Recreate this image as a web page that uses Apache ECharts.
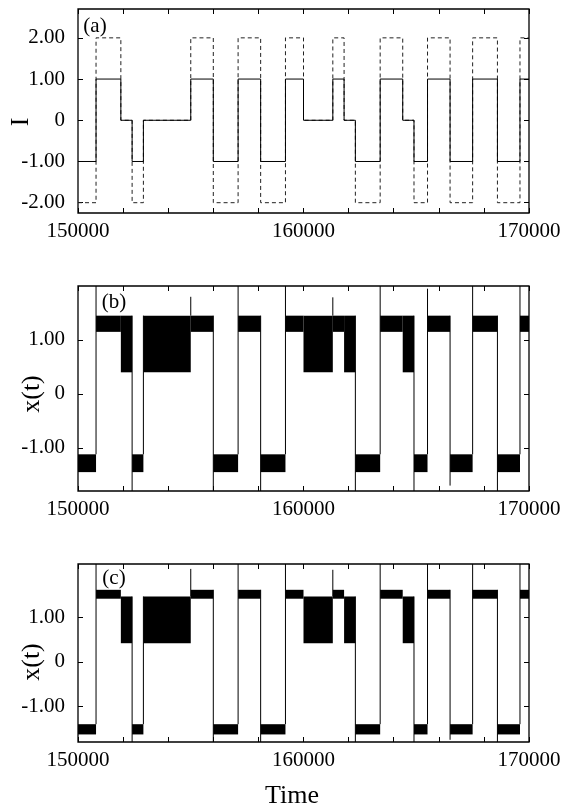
<!DOCTYPE html>
<html>
<head>
<meta charset="utf-8">
<script src="https://cdn.jsdelivr.net/npm/echarts@6/dist/echarts.min.js"></script>
<style>
  html, body { margin: 0; padding: 0; background: #fff; }
  #chart { width: 575px; height: 808px; }
</style>
</head>
<body>
<div id="chart"></div>
<script>
// x axis
const xTicks = [150000, 152000, 154000, 156000, 158000, 160000, 162000, 164000, 166000, 168000, 170000];
const xLabels = [150000, 160000, 170000];
const yTicksA = [-2, -1, 0, 1, 2];
const yTicksBC = [-1, 0, 1];

// panel (a): switching times and the two current levels
const switchTimes = [150000, 150800, 151900, 152400, 152900, 155000, 156000, 157100, 158100, 159200,
  160000, 161300, 161800, 162300, 163400, 164400, 164900, 165500, 166500, 167500, 168600, 169600, 170000];
const currentSolid = [-1, 1, 0, -1, 0, 1, -1, 1, -1, 1, 0, 1, 0, -1, 1, 0, -1, 1, -1, 1, -1, 1, 1];
const currentDashed = [-2, 2, 0, -2, 0, 2, -2, 2, -2, 2, 0, 2, 0, -2, 2, 0, -2, 2, -2, 2, -2, 2, 2];

// panel (b): oscillation bands [start, end, low, high]
const bandsB = [
  [150000, 150800, -1.45, -1.12], [150800, 151900, 1.15, 1.45], [151900, 152400, 0.40, 1.45],
  [152400, 152900, -1.45, -1.12], [152900, 155000, 0.40, 1.45], [155000, 156000, 1.15, 1.45],
  [156000, 157100, -1.45, -1.12], [157100, 158100, 1.15, 1.45], [158100, 159200, -1.45, -1.12],
  [159200, 160000, 1.15, 1.45], [160000, 161300, 0.40, 1.45], [161300, 161800, 1.15, 1.45],
  [161800, 162300, 0.40, 1.45], [162300, 163400, -1.45, -1.12], [163400, 164400, 1.15, 1.45],
  [164400, 164900, 0.40, 1.45], [164900, 165500, -1.45, -1.12], [165500, 166500, 1.15, 1.45],
  [166500, 167500, -1.45, -1.12], [167500, 168600, 1.15, 1.45], [168600, 169600, -1.45, -1.12],
  [169600, 170000, 1.15, 1.45]
];
// panel (b): jumps [time, from, to]
const jumpsB = [
  [150800, -1.12, 2.0], [152400, 1.45, -1.8], [152900, -1.12, 1.45], [155000, 1.45, 1.8],
  [156000, 1.45, -1.8], [157100, -1.12, 2.0], [158100, 1.45, -1.8], [159200, -1.12, 2.0],
  [161300, 1.45, 1.79], [162300, 1.45, -1.8], [163400, -1.12, 2.0], [164900, 1.45, -1.8],
  [165500, -1.12, 1.95], [166500, 1.45, -1.7], [167500, -1.12, 2.0], [168600, 1.45, -1.8],
  [169600, -1.12, 2.0]
];

// panel (c)
const bandsC = [
  [150000, 150800, -1.63, -1.40], [150800, 151900, 1.42, 1.62], [151900, 152400, 0.42, 1.47],
  [152400, 152900, -1.63, -1.40], [152900, 155000, 0.42, 1.47], [155000, 156000, 1.42, 1.62],
  [156000, 157100, -1.63, -1.40], [157100, 158100, 1.42, 1.62], [158100, 159200, -1.63, -1.40],
  [159200, 160000, 1.42, 1.62], [160000, 161300, 0.42, 1.47], [161300, 161800, 1.42, 1.62],
  [161800, 162300, 0.42, 1.47], [162300, 163400, -1.63, -1.40], [163400, 164400, 1.42, 1.62],
  [164400, 164900, 0.42, 1.47], [164900, 165500, -1.63, -1.40], [165500, 166500, 1.42, 1.62],
  [166500, 167500, -1.63, -1.40], [167500, 168600, 1.42, 1.62], [168600, 169600, -1.63, -1.40],
  [169600, 170000, 1.42, 1.62]
];
const jumpsC = [
  [150800, -1.40, 2.2], [152400, 1.47, -1.8], [152900, -1.40, 1.47], [155000, 1.47, 2.09],
  [156000, 1.62, -1.8], [157100, -1.40, 2.2], [158100, 1.62, -1.8], [159200, -1.40, 2.2],
  [161300, 1.47, 2.07], [162300, 1.47, -1.8], [163400, -1.40, 2.2], [164900, 1.47, -1.8],
  [165500, -1.40, 2.2], [166500, 1.62, -1.75], [167500, -1.40, 2.2], [168600, 1.62, -1.8],
  [169600, -1.40, 2.2]
];

const FONT = 'Liberation Serif';
const chart = echarts.init(document.getElementById('chart'));

const grids = [
  { left: 78, top: 9, width: 451, height: 204 },
  { left: 78, top: 286, width: 451, height: 205 },
  { left: 78, top: 564, width: 451, height: 178 }
];
const yRanges = [[-2.25, 2.7], [-1.8, 2.0], [-1.8, 2.2]];
const yTickSets = [yTicksA, yTicksBC, yTicksBC];

const tick = { inside: true, length: 5, lineStyle: { color: '#000', width: 1 } };
const noLine = { show: false, onZero: false };
const xAxes = [];
const yAxes = [];
grids.forEach((g, i) => {
  xAxes.push({
    type: 'value', gridIndex: i, position: 'bottom', min: 150000, max: 170000,
    axisLine: noLine, splitLine: { show: false },
    axisTick: Object.assign({ customValues: xTicks }, tick),
    axisLabel: { customValues: xLabels, color: '#000', fontFamily: FONT, fontSize: 21, margin: 8, formatter: v => String(v) }
  });
  xAxes.push({
    type: 'value', gridIndex: i, position: 'top', min: 150000, max: 170000,
    axisLine: noLine, splitLine: { show: false },
    axisTick: Object.assign({ customValues: xTicks }, tick),
    axisLabel: { show: false }
  });
  yAxes.push({
    type: 'value', gridIndex: i, position: 'left', min: yRanges[i][0], max: yRanges[i][1],
    axisLine: noLine, splitLine: { show: false },
    axisTick: Object.assign({ customValues: yTickSets[i] }, tick),
    axisLabel: {
      customValues: yTickSets[i], color: '#000', fontFamily: FONT, fontSize: 21, margin: 13,
      formatter: v => (v === 0 ? '0' : v.toFixed(2))
    }
  });
  yAxes.push({
    type: 'value', gridIndex: i, position: 'right', min: yRanges[i][0], max: yRanges[i][1],
    axisLine: noLine, splitLine: { show: false },
    axisTick: Object.assign({ customValues: yTickSets[i] }, tick),
    axisLabel: { show: false }
  });
});

function renderBand(params, api) {
  const p1 = api.coord([api.value(0), api.value(3)]);
  const p2 = api.coord([api.value(1), api.value(2)]);
  return {
    type: 'rect',
    shape: { x: p1[0], y: p1[1], width: p2[0] - p1[0], height: p2[1] - p1[1] },
    style: { fill: '#000' }
  };
}
function renderJump(params, api) {
  const a = api.coord([api.value(0), api.value(1)]);
  const b = api.coord([api.value(0), api.value(2)]);
  return {
    type: 'line',
    shape: { x1: a[0], y1: a[1], x2: b[0], y2: b[1] },
    style: { stroke: '#000', lineWidth: 1 }
  };
}

const zip = (xs, ys) => xs.map((x, i) => [x, ys[i]]);
const label = (text, x, y, size, extra) => Object.assign({
  type: 'text', x: x, y: y,
  style: { text: text, font: size + 'px "Liberation Serif"', fill: '#000', align: 'center', verticalAlign: 'middle' }
}, extra || {});

chart.setOption({
  animation: false,
  grid: grids.map(g => Object.assign({ show: true, borderColor: '#000', borderWidth: 1.3, backgroundColor: 'transparent' }, g)),
  xAxis: xAxes,
  yAxis: yAxes,
  graphic: [
    label('(a)', 95, 26, 21),
    label('(b)', 114, 302, 21),
    label('(c)', 114, 578, 21),
    label('I', 21, 122, 26, { rotation: Math.PI / 2 }),
    label('x(t)', 32, 394, 26, { rotation: Math.PI / 2 }),
    label('x(t)', 32, 662, 26, { rotation: Math.PI / 2 }),
    label('Time', 292, 796, 26)
  ],
  series: [
    {
      type: 'line', xAxisIndex: 0, yAxisIndex: 0, step: 'end', symbol: 'none',
      data: zip(switchTimes, currentDashed),
      lineStyle: { color: '#222', width: 1, type: [4, 3] }
    },
    {
      type: 'line', xAxisIndex: 0, yAxisIndex: 0, step: 'end', symbol: 'none',
      data: zip(switchTimes, currentSolid),
      lineStyle: { color: '#000', width: 1 }
    },
    { type: 'custom', xAxisIndex: 2, yAxisIndex: 2, renderItem: renderBand, data: bandsB, encode: { x: [0, 1], y: [2, 3] } },
    { type: 'custom', xAxisIndex: 2, yAxisIndex: 2, renderItem: renderJump, data: jumpsB, encode: { x: 0, y: [1, 2] } },
    { type: 'custom', xAxisIndex: 4, yAxisIndex: 4, renderItem: renderBand, data: bandsC, encode: { x: [0, 1], y: [2, 3] } },
    { type: 'custom', xAxisIndex: 4, yAxisIndex: 4, renderItem: renderJump, data: jumpsC, encode: { x: 0, y: [1, 2] } }
  ]
});
</script>
</body>
</html>
